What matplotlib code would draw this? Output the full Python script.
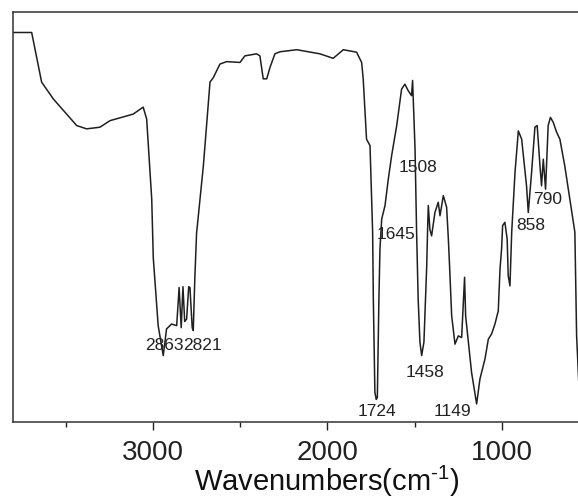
import matplotlib
matplotlib.use("Agg")
import matplotlib.pyplot as plt
import numpy as np

plt.rcParams['font.family'] = ['Liberation Sans', 'DejaVu Sans']
plt.rcParams['mathtext.fontset'] = 'custom'
plt.rcParams['mathtext.rm'] = 'Liberation Sans'
plt.rcParams['mathtext.it'] = 'Liberation Sans:italic'

# Spectrum (wavenumber in cm^-1, transmittance in arbitrary %)
wavenumber = [3802, 3695, 3638, 3571, 3437, 3380, 3304, 3246, 3113, 3056, 3036, 3007,
              2998, 2970, 2941, 2922, 2893, 2864, 2850, 2838, 2828, 2818, 2807, 2795,
              2788, 2775, 2769, 2760, 2750, 2711, 2673, 2654, 2616, 2578, 2501, 2473,
              2406, 2387, 2368, 2348, 2329, 2301, 2272, 2176, 2043, 1967, 1909, 1833,
              1804, 1795, 1776, 1756, 1741, 1737, 1728, 1720, 1714, 1705, 1699, 1689,
              1670, 1651, 1632, 1603, 1575, 1556, 1537, 1518, 1512, 1505, 1498, 1489,
              1480, 1470, 1460, 1447, 1431, 1426, 1422, 1413, 1403, 1384, 1365, 1355,
              1336, 1317, 1307, 1300, 1288, 1269, 1250, 1231, 1214, 1208, 1174, 1145,
              1126, 1097, 1078, 1059, 1040, 1021, 1011, 1002, 996, 983, 970, 964,
              954, 944, 925, 906, 887, 859, 849, 830, 811, 798, 782, 773,
              763, 750, 735, 722, 706, 687, 668, 640, 611, 582, 572, 560]
transmittance = [95, 95, 82.9, 78.8, 72.3, 71.5, 71.9, 73.5, 75.1, 76.8, 73.9, 54.4,
                 40, 23.5, 16.2, 22.7, 23.9, 23.5, 32.8, 23, 33, 24.5, 25.1, 33,
                 32.8, 23, 22.3, 35, 46, 62.5, 82.9, 84, 87.3, 87.9, 87.7, 89.3,
                 89.8, 89.3, 83.7, 83.7, 86.5, 89.8, 90.3, 90.8, 89.8, 88.7, 90.8, 90.2,
                 87.7, 83.7, 69, 67.4, 46.3, 30, 7.2, 5.5, 6, 30, 42.2, 49.5,
                 52.8, 59.3, 65, 72.3, 81.2, 82.4, 80.8, 79.6, 83.3, 75, 66.6, 46.3,
                 30, 19.5, 16.2, 19.5, 38.1, 47, 52.8, 47, 45.4, 51.1, 53.6, 50.3,
                 55.2, 52.4, 44.6, 38, 25.9, 19, 21, 20.6, 35.3, 25.9, 12.1, 4.4,
                 10.5, 15.4, 20.2, 21.5, 23.9, 27.1, 37.3, 42.2, 47.9, 48.7, 44.6, 35.7,
                 33.2, 46.3, 60.9, 71, 69, 57.6, 51.1, 60.9, 71.9, 72.3, 62.5, 57.6,
                 64.1, 56.8, 72.3, 74.3, 73.1, 70.7, 69, 62.5, 54.4, 46.3, 21, 10]

# Peak labels and where their text sits
peak_labels = ['2863', '2821', '1724', '1645', '1508', '1458', '1149', '858', '790']
label_x = [2937, 2716, 1716, 1605, 1481, 1441, 1281, 834, 739]
label_y = [18.9, 18.9, 2.8, 45.9, 62.3, 12.3, 2.8, 48.2, 54.5]

major_ticks = [3000, 2000, 1000]
minor_ticks = [3500, 2500, 1500, 500]

fig = plt.figure(figsize=(5.78, 5.02), dpi=100)
ax = fig.add_axes([13/578, 79/502, 628/578, 410/502])
ax.plot(wavenumber, transmittance, color='#1f1f1f', lw=1.1)
ax.set_xlim(3802, 203)
ax.set_ylim(0, 100)
ax.set_yticks([])
ax.set_xticks(major_ticks)
ax.set_xticklabels([str(t) for t in major_ticks])
ax.set_xticks(minor_ticks, minor=True)
ax.tick_params(axis='x', which='major', direction='out', length=6, width=1,
               labelsize=20, pad=6, colors='#222222')
ax.tick_params(axis='x', which='minor', direction='out', length=3.6, width=1,
               colors='#222222')
for s in ax.spines.values():
    s.set_color('#333333')
    s.set_linewidth(1.1)

for t, x, y in zip(peak_labels, label_x, label_y):
    ax.text(x, y, t, ha='center', va='center', fontsize=12.5, color='#222222')

ax.set_xlabel('Wavenumbers(cm$^{\\text{-}1}$)', fontsize=21, labelpad=-1, color='#111111')

fig.savefig('out.png', dpi=100)
